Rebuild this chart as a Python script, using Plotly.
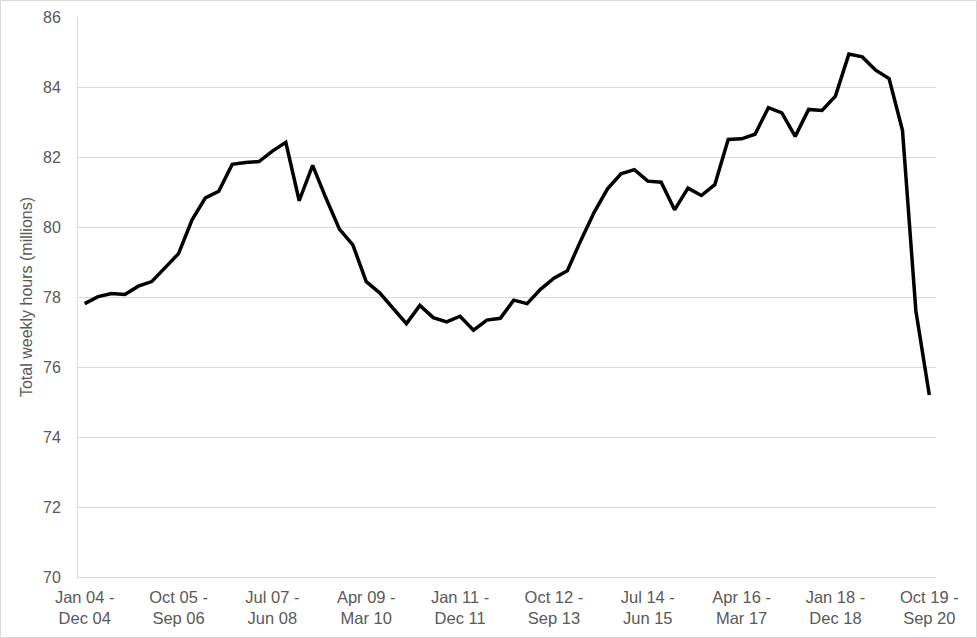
import plotly.graph_objects as go

# Rolling 12-month periods, quarterly steps (Jan 04 - Dec 04 ... Oct 19 - Sep 20)
period_index = list(range(64))

total_weekly_hours = [
    77.81, 78.01, 78.10, 78.07, 78.31, 78.44, 78.84, 79.24, 80.20, 80.83,
    81.02, 81.79, 81.84, 81.87, 82.17, 82.42, 80.75, 81.76, 80.82, 79.94,
    79.49, 78.44, 78.12, 77.69, 77.24, 77.76, 77.41, 77.29, 77.45, 77.05,
    77.34, 77.39, 77.91, 77.81, 78.22, 78.54, 78.75, 79.61, 80.42, 81.09,
    81.52, 81.64, 81.31, 81.28, 80.49, 81.11, 80.90, 81.21, 82.50, 82.52,
    82.65, 83.41, 83.26, 82.59, 83.36, 83.33, 83.74, 84.94, 84.86, 84.48,
    84.24, 82.76, 77.60, 75.20,
]

tick_positions = [0, 7, 14, 21, 28, 35, 42, 49, 56, 63]
tick_labels = [
    "Jan 04 -<br>Dec 04", "Oct 05 -<br>Sep 06", "Jul 07 -<br>Jun 08",
    "Apr 09 -<br>Mar 10", "Jan 11 -<br>Dec 11", "Oct 12 -<br>Sep 13",
    "Jul 14 -<br>Jun 15", "Apr 16 -<br>Mar 17", "Jan 18 -<br>Dec 18",
    "Oct 19 -<br>Sep 20",
]

W, H = 977, 638
ml, mr, mt, mb = 78, 41, 17, 61

fig = go.Figure()
fig.add_trace(go.Scatter(
    x=period_index, y=total_weekly_hours, mode="lines",
    line=dict(color="black", width=3.5), showlegend=False,
))

fig.update_layout(
    width=W, height=H,
    margin=dict(l=ml, r=mr, t=mt, b=mb),
    paper_bgcolor="white", plot_bgcolor="white",
    font=dict(family="Liberation Sans, Arial, sans-serif", size=16, color="#595959"),
    xaxis=dict(
        range=[-0.5, 63.5], tickvals=tick_positions, ticktext=tick_labels,
        showgrid=False, zeroline=False, showline=True, linecolor="#d9d9d9",
        linewidth=1, ticks="", tickfont=dict(size=16.5), automargin=False,
        ticklabelstandoff=5,
    ),
    yaxis=dict(
        range=[70, 86], dtick=2, showgrid=True, gridcolor="#d9d9d9", gridwidth=1,
        zeroline=False, showline=True, linecolor="#d9d9d9", linewidth=1,
        ticks="", ticklabelstandoff=13, automargin=False,
        title=dict(text="Total weekly hours (millions)", font=dict(size=16), standoff=6),
    ),
)

# light border round the whole chart, like the source
pw, ph = W - ml - mr, H - mt - mb
fig.add_shape(
    type="rect", xref="paper", yref="paper",
    x0=-(ml - 0.5) / pw, x1=1 + (mr - 0.5) / pw,
    y0=-(mb - 0.5) / ph, y1=1 + (mt - 0.5) / ph,
    line=dict(color="#d9d9d9", width=1), layer="below",
)

# drop the browser's default page margin so the chart sits at 0,0
fig.write_html(
    "out.html",
    config={"displayModeBar": False},
    post_script="document.body.style.margin='0';",
)
